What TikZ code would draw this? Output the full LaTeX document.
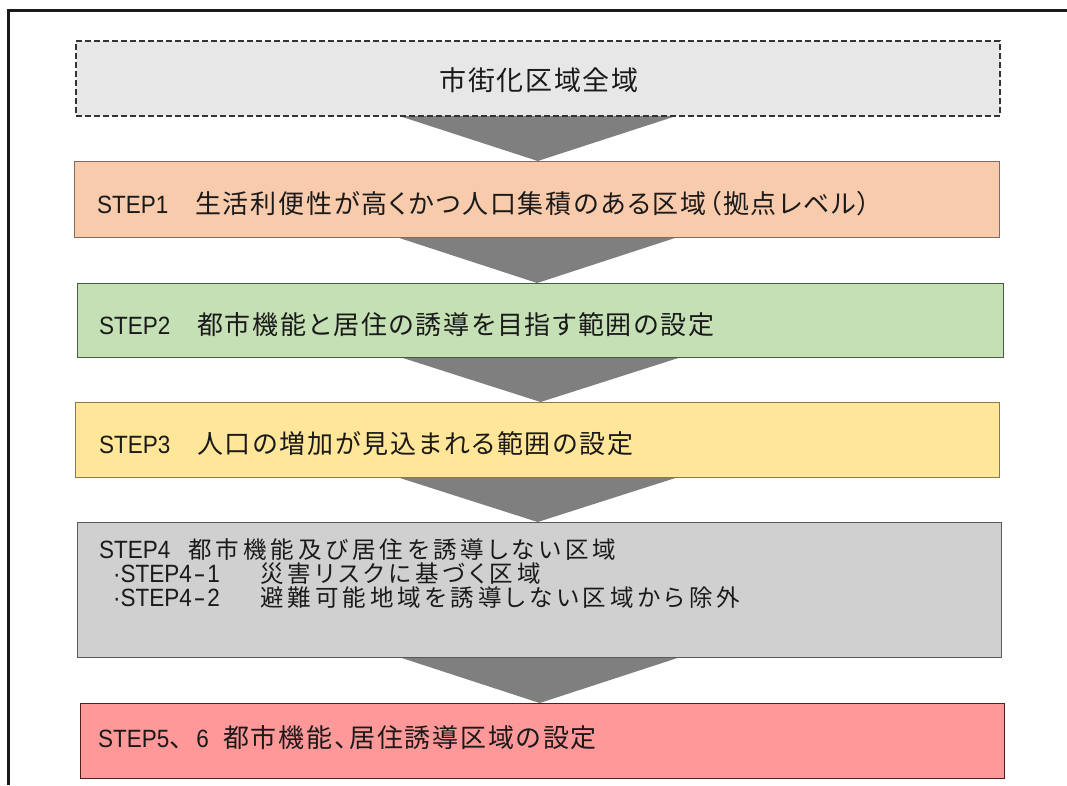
\documentclass[tikz,border=0pt]{standalone}
\usepackage{fontspec}
\setmainfont{Liberation Sans}
\newfontfamily\jpfont[LetterSpace=7,RawFeature=+palt]{Noto Sans CJK JP}
\newfontfamily\jpsmall[LetterSpace=17,RawFeature=+palt]{Noto Sans CJK JP}
\newfontfamily\jptop[LetterSpace=6]{Noto Sans CJK JP}
\newcommand\jtxt[1]{{\jpfont\fontsize{26}{28}\selectfont #1}}
\newcommand\jsm[1]{{\jpsmall\fontsize{23.5}{25}\selectfont #1}}
\newcommand\ltx[1]{\scalebox{0.9}[1]{#1}}
\newcommand\dsh{\makebox[17pt]{\scalebox{1.6}[1]{-}}}
\usetikzlibrary{backgrounds,calc}
\definecolor{c0}{HTML}{E7E7E7}\definecolor{d0}{HTML}{333333}
\definecolor{c1}{HTML}{F8CBAD}\definecolor{d1}{HTML}{85695C}
\definecolor{c2}{HTML}{C5E0B4}\definecolor{d2}{HTML}{4A5A40}
\definecolor{c3}{HTML}{FFE699}\definecolor{d3}{HTML}{8A7A45}
\definecolor{c4}{HTML}{D0D0D0}\definecolor{d4}{HTML}{5A5A5A}
\definecolor{c5}{HTML}{FF9999}\definecolor{d5}{HTML}{4D1F1F}
\definecolor{arrowc}{HTML}{7F7F7F}
\definecolor{textc}{HTML}{1A1A1A}
\definecolor{framec}{HTML}{1A1A1A}
\begin{document}
\begin{tikzpicture}[x=1pt,y=-1pt,
  stepbox/.style={draw, line width=1.3pt, minimum width=924pt, minimum height=75pt,
    inner sep=0pt, anchor=north west},
  txt/.style={anchor=west, inner sep=0pt, text=textc, font=\fontsize{25}{26}\selectfont},
  chev/.style={fill=arrowc, draw=none}]
\useasboundingbox (0,0) rectangle (1067,785);
\begin{scope}[on background layer]
\fill[white] (0,0) rectangle (1067,785);
\end{scope}
% outer frame
\draw[line width=3pt, framec] (8,785) -- (8,10) -- (1067,10);
% boxes
\node[stepbox, fill=c0, draw=d0, dash pattern=on 6pt off 3pt, line width=1.5pt] (b0) at (75,40) {};
\node[stepbox, fill=c1, draw=d1, minimum width=925pt, minimum height=76pt] (b1) at (74,161) {};
\node[stepbox, fill=c2, draw=d2, minimum width=926pt, minimum height=74pt] (b2) at (77,283) {};
\node[stepbox, fill=c3, draw=d3] (b3) at (75,402) {};
\node[stepbox, fill=c4, draw=d4, minimum height=135pt] (b4) at (77,522) {};
\node[stepbox, fill=c5, draw=d5] (b5) at (80,703) {};
% texts
\node[inner sep=0pt, text=textc, font=\jptop\fontsize{27}{29}\selectfont] (t0) at (539,80) {市街化区域全域};
\node[txt] (t1) at (97,204) {\makebox[98pt][l]{\ltx{STEP1}}\jtxt{生活利便性が高くかつ人口集積のある区域（拠点レベル）}};
\node[txt] (t2) at (99,325) {\makebox[98pt][l]{\ltx{STEP2}}\jtxt{都市機能と居住の誘導を目指す範囲の設定}};
\node[txt] (t3) at (99,444) {\makebox[98pt][l]{\ltx{STEP3}}\jtxt{人口の増加が見込まれる範囲の設定}};
\node[txt] (t4a) at (99,550) {\makebox[89pt][l]{\ltx{STEP4}}\jsm{都市機能及び居住を誘導しない区域}};
\node[txt] (t4b) at (113,574) {\makebox[147pt][l]{\ltx{·STEP4\dsh 1}}\jsm{災害リスクに基づく区域}};
\node[txt] (t4c) at (113,598) {\makebox[147pt][l]{\ltx{·STEP4\dsh 2}}\jsm{避難可能地域を誘導しない区域から除外}};
\node[txt] (t5) at (98,738) {\makebox[125pt][l]{\ltx{STEP5}\makebox[27pt][l]{\jtxt{、}}\ltx{6}}\jtxt{都市機能、居住誘導区域の設定}};
% chevron arrows
\begin{scope}[on background layer]
\foreach \u/\l in {b0/b1,b1/b2,b2/b3,b3/b4,b4/b5}
  \fill[chev] ($(\u.south)+(-143,-2)$) -- ($(\u.south)+(143,-2)$) -- (\u.south |- \l.north) -- cycle;
\end{scope}
\end{tikzpicture}
\end{document}
